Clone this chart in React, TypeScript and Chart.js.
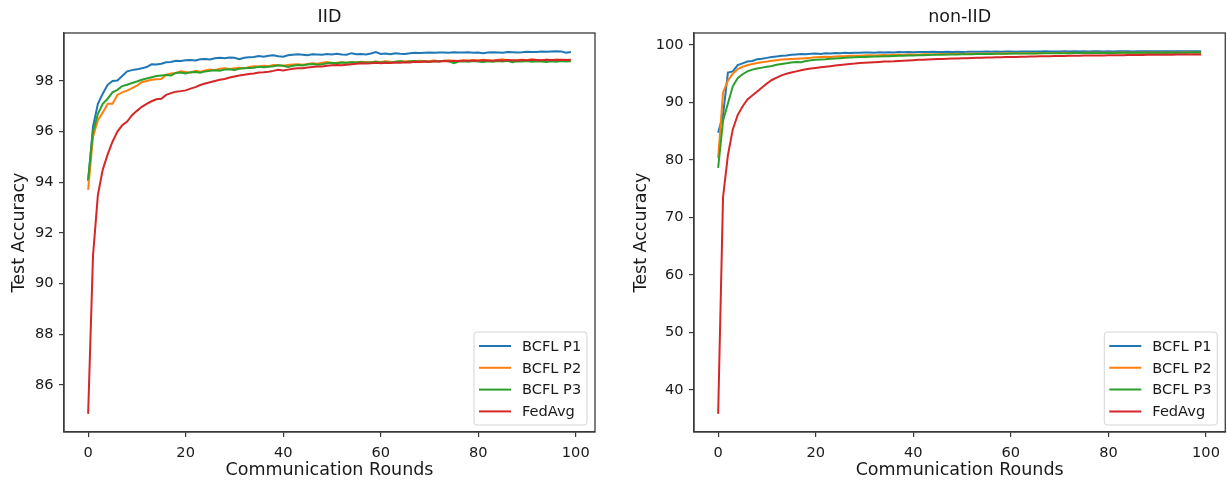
import React, { useEffect, useRef } from 'react';
import { Chart, registerables } from 'chart.js';
Chart.register(...registerables);

const SERIES_NAMES = ['BCFL P1', 'BCFL P2', 'BCFL P3', 'FedAvg'];
const COLORS = ['#1f77b4', '#ff7f0e', '#2ca02c', '#d62728'];

const IID_P1 = [
  94.05, 96.2, 97.1, 97.5, 97.85, 98.0, 98.02, 98.2, 98.38, 98.43,
  98.46, 98.5, 98.55, 98.66, 98.65, 98.68, 98.74, 98.75, 98.8, 98.79,
  98.82, 98.83, 98.81, 98.86, 98.87, 98.85, 98.9, 98.92, 98.9, 98.93,
  98.92, 98.86, 98.92, 98.94, 98.95, 98.99, 98.96, 99.0, 99.02, 98.98,
  98.96, 99.02, 99.04, 99.06, 99.04, 99.02, 99.06, 99.05, 99.04, 99.07,
  99.05, 99.08, 99.05, 99.04, 99.1, 99.06, 99.07, 99.05, 99.09, 99.14,
  99.07, 99.09, 99.06, 99.1, 99.08, 99.07, 99.1, 99.12, 99.11, 99.12,
  99.13, 99.12, 99.13, 99.13, 99.12, 99.14, 99.13, 99.13, 99.14, 99.12,
  99.13, 99.1, 99.13, 99.14, 99.13, 99.12, 99.15, 99.14, 99.13, 99.14,
  99.16, 99.15, 99.15, 99.17, 99.16, 99.17, 99.18, 99.17, 99.12, 99.15,
];
const IID_P2 = [
  93.7, 95.8, 96.45, 96.75, 97.1, 97.1, 97.45, 97.55, 97.62, 97.72,
  97.82, 97.95, 98.0, 98.05, 98.07, 98.08, 98.25, 98.3, 98.32, 98.38,
  98.36, 98.33, 98.4, 98.37, 98.42, 98.45, 98.43, 98.48, 98.5, 98.47,
  98.5, 98.52, 98.5, 98.55, 98.58, 98.57, 98.6, 98.58, 98.63, 98.62,
  98.6, 98.63, 98.65, 98.66, 98.64, 98.67, 98.7, 98.68, 98.72, 98.75,
  98.7, 98.72, 98.74, 98.72, 98.75, 98.73, 98.76, 98.75, 98.74, 98.77,
  98.75, 98.78, 98.76, 98.75, 98.78, 98.77, 98.79, 98.78, 98.8, 98.78,
  98.79, 98.81, 98.78, 98.8, 98.82, 98.79, 98.8, 98.82, 98.8, 98.83,
  98.81, 98.84, 98.82, 98.8, 98.83, 98.86, 98.82, 98.8, 98.83, 98.84,
  98.82, 98.86, 98.83, 98.81, 98.84, 98.82, 98.85, 98.83, 98.84, 98.8,
];
const IID_P3 = [
  94.1, 96.0, 96.7, 97.1, 97.3, 97.55, 97.65, 97.8, 97.85, 97.92,
  97.98, 98.05, 98.1, 98.15, 98.2, 98.22, 98.24, 98.22, 98.32, 98.34,
  98.3, 98.35, 98.36, 98.33, 98.38, 98.4, 98.42, 98.41, 98.45, 98.46,
  98.44, 98.48, 98.5, 98.51, 98.52, 98.56, 98.54, 98.56, 98.58, 98.62,
  98.6, 98.55, 98.6, 98.63, 98.61, 98.65, 98.67, 98.64, 98.66, 98.7,
  98.72, 98.7, 98.73, 98.72, 98.74, 98.73, 98.75, 98.72, 98.74, 98.76,
  98.73, 98.75, 98.72, 98.76, 98.78, 98.75, 98.77, 98.79, 98.76, 98.78,
  98.75, 98.79, 98.77, 98.8, 98.78, 98.7, 98.77, 98.78, 98.76, 98.79,
  98.77, 98.75, 98.78, 98.76, 98.79, 98.77, 98.8, 98.74, 98.78, 98.77,
  98.79, 98.76, 98.78, 98.77, 98.75, 98.78, 98.76, 98.79, 98.77, 98.78,
];
const IID_FEDAVG = [
  84.85, 91.1, 93.5, 94.5, 95.1, 95.6, 96.0, 96.25, 96.4, 96.65,
  96.82, 96.98, 97.1, 97.2, 97.28, 97.3, 97.45, 97.52, 97.58, 97.6,
  97.63, 97.7, 97.76, 97.84, 97.9, 97.95, 98.0, 98.05, 98.08, 98.14,
  98.18, 98.22, 98.25, 98.28, 98.3, 98.34, 98.35, 98.37, 98.4, 98.44,
  98.42, 98.45, 98.48, 98.5, 98.5, 98.53, 98.55, 98.57, 98.57, 98.6,
  98.62, 98.63, 98.62, 98.64, 98.66, 98.68, 98.7, 98.69, 98.7, 98.72,
  98.7, 98.72, 98.71, 98.73, 98.72, 98.74, 98.73, 98.76, 98.75, 98.77,
  98.76, 98.78, 98.77, 98.79, 98.78, 98.8, 98.79, 98.8, 98.8, 98.81,
  98.8, 98.82, 98.81, 98.8, 98.82, 98.81, 98.83, 98.82, 98.81, 98.83,
  98.82, 98.84, 98.83, 98.82, 98.84, 98.83, 98.83, 98.84, 98.83, 98.84,
];

const NONIID_P1 = [
  84.7, 87.8, 95.2, 95.4, 96.5, 96.8, 97.1, 97.2, 97.5, 97.6,
  97.75, 97.9, 98.0, 98.1, 98.15, 98.3, 98.35, 98.4, 98.38, 98.45,
  98.5, 98.42, 98.55, 98.5, 98.6, 98.55, 98.62, 98.6, 98.66, 98.62,
  98.68, 98.7, 98.65, 98.72, 98.7, 98.74, 98.7, 98.75, 98.72, 98.76,
  98.74, 98.78, 98.75, 98.77, 98.8, 98.76, 98.78, 98.8, 98.77, 98.82,
  98.79, 98.8, 98.83, 98.8, 98.82, 98.84, 98.8, 98.85, 98.82, 98.84,
  98.86, 98.83, 98.85, 98.87, 98.84, 98.86, 98.84, 98.88, 98.85, 98.87,
  98.86, 98.88, 98.85, 98.9, 98.87, 98.89, 98.86, 98.88, 98.9, 98.87,
  98.89, 98.86, 98.9, 98.88, 98.9, 98.87, 98.91, 98.88, 98.9, 98.92,
  98.89, 98.9, 98.88, 98.91, 98.89, 98.92, 98.9, 98.91, 98.89, 98.92,
];
const NONIID_P2 = [
  80.3, 91.7, 93.8, 95.0, 95.8, 96.2, 96.45, 96.7, 96.85, 97.0,
  97.1, 97.25, 97.35, 97.45, 97.5, 97.55, 97.6, 97.65, 97.7, 97.75,
  97.85, 97.9, 97.95, 97.9, 98.0, 98.05, 98.02, 98.1, 98.12, 98.1,
  98.18, 98.2, 98.15, 98.22, 98.25, 98.2, 98.28, 98.3, 98.26, 98.32,
  98.35, 98.3, 98.36, 98.38, 98.34, 98.4, 98.42, 98.38, 98.44, 98.45,
  98.42, 98.47, 98.45, 98.48, 98.5, 98.47, 98.52, 98.5, 98.53, 98.55,
  98.52, 98.56, 98.54, 98.57, 98.55, 98.58, 98.56, 98.6, 98.58, 98.61,
  98.59, 98.62, 98.6, 98.63, 98.61, 98.64, 98.62, 98.64, 98.63, 98.65,
  98.62, 98.66, 98.64, 98.67, 98.65, 98.66, 98.64, 98.67, 98.65, 98.68,
  98.66, 98.67, 98.65, 98.68, 98.66, 98.69, 98.67, 98.68, 98.66, 98.68,
];
const NONIID_P3 = [
  78.6, 86.8, 89.8, 92.8, 94.2, 94.9, 95.4, 95.7, 95.9, 96.05,
  96.2, 96.35, 96.55, 96.7, 96.8, 96.95, 97.05, 97.0, 97.2, 97.35,
  97.4, 97.45, 97.5, 97.6, 97.65, 97.7, 97.75, 97.8, 97.85, 97.88,
  97.9, 97.95, 97.98, 98.0, 98.03, 98.05, 98.08, 98.1, 98.12, 98.15,
  98.17, 98.2, 98.22, 98.25, 98.27, 98.28, 98.3, 98.32, 98.33, 98.35,
  98.36, 98.38, 98.39, 98.4, 98.42, 98.43, 98.44, 98.45, 98.47, 98.48,
  98.49, 98.5, 98.5, 98.52, 98.52, 98.53, 98.54, 98.55, 98.55, 98.56,
  98.56, 98.57, 98.57, 98.58, 98.58, 98.59, 98.59, 98.6, 98.6, 98.6,
  98.61, 98.61, 98.62, 98.62, 98.62, 98.63, 98.63, 98.63, 98.64, 98.64,
  98.64, 98.65, 98.65, 98.65, 98.66, 98.66, 98.66, 98.67, 98.67, 98.67,
];
const NONIID_FEDAVG = [
  35.8, 73.5, 80.8, 85.3, 87.8, 89.3, 90.5, 91.2, 91.9, 92.6,
  93.3, 93.9, 94.3, 94.7, 95.0, 95.2, 95.4, 95.6, 95.75, 95.9,
  96.0, 96.1, 96.2, 96.3, 96.4, 96.5, 96.6, 96.7, 96.75, 96.85,
  96.9, 96.95, 97.0, 97.05, 97.1, 97.12, 97.15, 97.2, 97.25, 97.3,
  97.35, 97.4, 97.43, 97.47, 97.5, 97.53, 97.56, 97.59, 97.62, 97.65,
  97.67, 97.7, 97.72, 97.75, 97.77, 97.8, 97.82, 97.84, 97.86, 97.88,
  97.9, 97.92, 97.94, 97.96, 97.98, 98.0, 98.02, 98.03, 98.05, 98.06,
  98.08, 98.09, 98.1, 98.12, 98.13, 98.14, 98.15, 98.16, 98.17, 98.18,
  98.19, 98.2, 98.21, 98.22, 98.23, 98.24, 98.25, 98.26, 98.27, 98.28,
  98.29, 98.3, 98.3, 98.31, 98.32, 98.33, 98.33, 98.34, 98.35, 98.35,
];

const IID_Y_TICKS = [86, 88, 90, 92, 94, 96, 98];
const NONIID_Y_TICKS = [40, 50, 60, 70, 80, 90, 100];
const X_TICKS = [0, 20, 40, 60, 80, 100];

const FONT = '"DejaVu Sans", sans-serif';
const TEXT = '#1a1a1a';
const SPINE = '#3a3a3a';

const frameAndLegend = {
  id: 'frameAndLegend',
  afterDraw(chart: any) {
    const { ctx, chartArea } = chart;
    const { left, right, top, bottom } = chartArea;
    ctx.save();
    ctx.strokeStyle = SPINE;
    ctx.lineWidth = 1.3;
    ctx.strokeRect(left, top, right - left, bottom - top);

    const w = 113, h = 93, r = 3;
    const x = right - 8 - w;
    const y = bottom - 7 - h;
    ctx.beginPath();
    ctx.moveTo(x + r, y);
    ctx.arcTo(x + w, y, x + w, y + h, r);
    ctx.arcTo(x + w, y + h, x, y + h, r);
    ctx.arcTo(x, y + h, x, y, r);
    ctx.arcTo(x, y, x + w, y, r);
    ctx.closePath();
    ctx.fillStyle = 'rgba(255,255,255,0.85)';
    ctx.fill();
    ctx.strokeStyle = '#d4d4d4';
    ctx.lineWidth = 1;
    ctx.stroke();

    ctx.font = `14.6px ${FONT}`;
    ctx.textBaseline = 'middle';
    ctx.textAlign = 'left';
    SERIES_NAMES.forEach((name, i) => {
      const ry = y + 14 + i * 21.8;
      ctx.strokeStyle = COLORS[i];
      ctx.lineWidth = 2;
      ctx.beginPath();
      ctx.moveTo(x + 5, ry);
      ctx.lineTo(x + 37, ry);
      ctx.stroke();
      ctx.fillStyle = TEXT;
      ctx.fillText(name, x + 48, ry + 1);
    });
    ctx.restore();
  },
};

type PanelProps = {
  title: string;
  series: number[][];
  yTicks: number[];
  left: number;
  width: number;
  yAxisWidth: number;
  rightPad: number;
  yTitlePad: number;
};

function Panel({ title, series, yTicks, left, width, yAxisWidth, rightPad, yTitlePad }: PanelProps) {
  const ref = useRef<HTMLCanvasElement | null>(null);
  useEffect(() => {
    if (!ref.current) return;
    const all = series.flat();
    const dmin = Math.min(...all);
    const dmax = Math.max(...all);
    const m = (dmax - dmin) * 0.05;
    const n = series[0].length;
    const xm = (n - 1) * 0.05;
    const chart = new Chart(ref.current, {
      type: 'line',
      data: {
        datasets: series.map((vals, i) => ({
          label: SERIES_NAMES[i],
          data: vals.map((v, k) => ({ x: k, y: v })),
          borderColor: COLORS[i],
          backgroundColor: COLORS[i],
          borderWidth: 2,
          pointRadius: 0,
          tension: 0,
          fill: false,
          order: series.length - i,
        })),
      },
      options: {
        responsive: false,
        animation: false,
        devicePixelRatio: 1,
        layout: { padding: { left: 0, right: rightPad, top: 0, bottom: 0 } },
        plugins: {
          legend: { display: false },
          tooltip: { enabled: false },
          title: {
            display: true,
            fullSize: false,
            text: title,
            color: TEXT,
            font: { family: FONT, size: 17.5, weight: 'normal' },
            padding: { top: 6.5, bottom: 5.5 },
          },
        },
        scales: {
          x: {
            type: 'linear',
            min: -xm,
            max: n - 1 + xm,
            grid: { drawOnChartArea: false, drawTicks: true, tickLength: 5, color: SPINE, lineWidth: 1.2 },
            border: { display: true, color: SPINE, width: 1.3 },
            ticks: { color: TEXT, font: { family: FONT, size: 14.6 }, padding: 7, maxRotation: 0 },
            title: {
              display: true,
              text: 'Communication Rounds',
              color: TEXT,
              font: { family: FONT, size: 17.5 },
              padding: { top: 0, bottom: 0 },
            },
            afterBuildTicks: (s: any) => { s.ticks = X_TICKS.map((v) => ({ value: v })); },
            afterFit: (s: any) => { s.height = 49; },
          },
          y: {
            type: 'linear',
            min: dmin - m,
            max: dmax + m,
            grid: { drawOnChartArea: false, drawTicks: true, tickLength: 5, color: SPINE, lineWidth: 1.2 },
            border: { display: true, color: SPINE, width: 1.3 },
            ticks: { color: TEXT, font: { family: FONT, size: 14.6 }, padding: 5.5 },
            title: {
              display: true,
              text: 'Test Accuracy',
              color: TEXT,
              font: { family: FONT, size: 17.5 },
              padding: { top: yTitlePad, bottom: 0 },
            },
            afterBuildTicks: (s: any) => { s.ticks = yTicks.map((v) => ({ value: v })); },
            afterFit: (s: any) => { s.width = yAxisWidth; },
          },
        },
      } as any,
      plugins: [frameAndLegend],
    });
    return () => chart.destroy();
  }, []);
  return (
    <canvas
      ref={ref}
      width={width}
      height={481}
      style={{ position: 'absolute', left, top: 0, width, height: 481 }}
    />
  );
}

export default function App() {
  return (
    <div style={{ position: 'absolute', left: 0, top: 0, width: 1227, height: 481, background: '#fff' }}>
      <Panel
        title="IID"
        series={[IID_P1, IID_P2, IID_P3, IID_FEDAVG]}
        yTicks={IID_Y_TICKS}
        left={0}
        width={614}
        yAxisWidth={64}
        rightPad={19}
        yTitlePad={9}
      />
      <Panel
        title="non-IID"
        series={[NONIID_P1, NONIID_P2, NONIID_P3, NONIID_FEDAVG]}
        yTicks={NONIID_Y_TICKS}
        left={614}
        width={613}
        yAxisWidth={80}
        rightPad={1}
        yTitlePad={17}
      />
    </div>
  );
}
